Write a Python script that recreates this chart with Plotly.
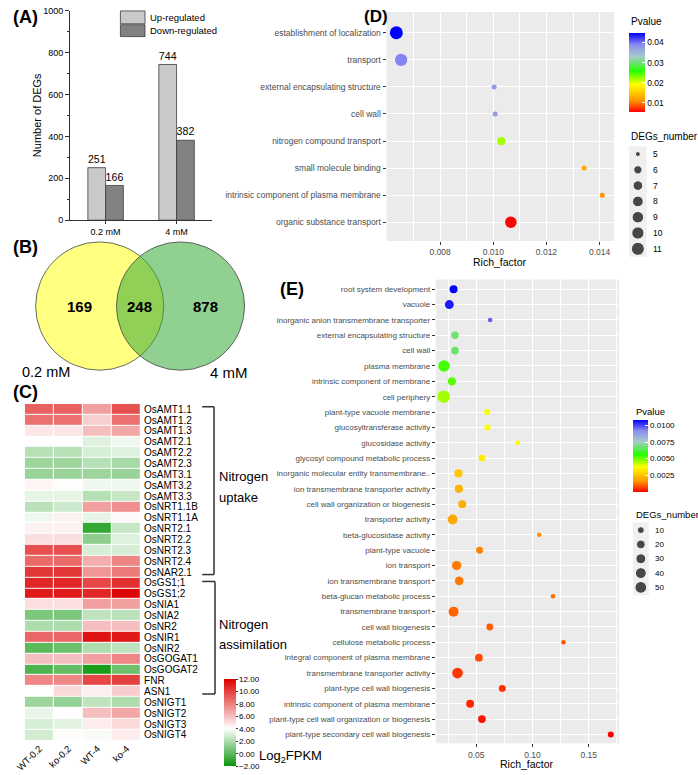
import numpy as np
import plotly.graph_objects as go

W, H = 698, 775
def fx(p): return p / W
def fy(p): return 1 - p / H

# ---------------- Panel A data ----------------
conc = ["0.2 mM", "4 mM"]
up_regulated = [251, 744]
down_regulated = [166, 382]

# ---------------- Panel B data ----------------
venn_sets = ["0.2 mM", "4 mM"]
venn_counts = [169, 248, 878]   # only 0.2 mM, shared, only 4 mM

# ---------------- Panel C data ----------------
samples = ["WT-0.2", "ko-0.2", "WT-4", "ko-4"]
genes = ["OsAMT1.1", "OsAMT1.2", "OsAMT1.3", "OsAMT2.1", "OsAMT2.2", "OsAMT2.3",
         "OsAMT3.1", "OsAMT3.2", "OsAMT3.3", "OsNRT1.1B", "OsNRT1.1A", "OsNRT2.1",
         "OsNRT2.2", "OsNRT2.3", "OsNRT2.4", "OsNAR2.1", "OsGS1;1", "OsGS1;2",
         "OsNIA1", "OsNIA2", "OsNR2", "OsNIR1", "OsNIR2", "OsGOGAT1", "OsGOGAT2",
         "FNR", "ASN1", "OsNIGT1", "OsNIGT2", "OsNIGT3", "OsNIGT4"]
log2fpkm = [
    [9.0, 9.0, 7.0, 9.5],
    [8.5, 8.5, 5.5, 8.5],
    [4.8, 4.8, 6.0, 6.8],
    [4.0, 4.0, 3.2, 3.6],
    [2.2, 2.2, 3.0, 3.2],
    [1.6, 1.6, 2.2, 1.8],
    [1.5, 1.5, 1.6, 1.5],
    [4.3, 4.1, 3.6, 3.6],
    [3.4, 3.4, 2.2, 2.6],
    [2.3, 2.8, 7.0, 7.5],
    [3.6, 4.4, 3.4, 4.2],
    [4.4, 4.4, -1.0, 2.6],
    [5.0, 5.0, 1.2, 3.2],
    [9.5, 9.5, 3.0, 3.0],
    [8.7, 8.7, 6.6, 7.8],
    [10.3, 10.3, 7.3, 8.2],
    [10.8, 10.8, 9.8, 10.5],
    [11.2, 11.2, 10.8, 11.8],
    [5.0, 5.0, 7.0, 7.0],
    [0.8, 0.8, 2.4, 2.3],
    [2.0, 2.0, 6.0, 6.0],
    [8.8, 8.8, 11.4, 11.2],
    [0.0, 0.4, 2.0, 2.4],
    [6.0, 6.0, 7.0, 7.8],
    [-0.3, 0.2, -1.6, 0.4],
    [7.8, 7.8, 9.8, 10.0],
    [4.0, 5.2, 4.5, 5.6],
    [1.6, 1.4, 2.4, 2.0],
    [3.5, 4.0, 6.0, 6.8],
    [3.0, 3.3, 4.6, 5.2],
    [2.9, 4.1, 3.8, 4.6],
]
heat_ticks = [-2, 0, 2, 4, 6, 8, 10, 12]

# ---------------- Panel D data ----------------
d_terms = ["establishment of localization", "transport", "external encapsulating structure",
           "cell wall", "nitrogen compound transport", "small molecule binding",
           "intrinsic component of plasma membrane", "organic substance transport"]
d_rich = [0.00635, 0.00653, 0.01003, 0.01007, 0.0103, 0.01342, 0.0141, 0.01066]
d_pvalue = [0.0449, 0.0394, 0.0378, 0.0375, 0.0221, 0.0127, 0.0115, 0.0056]
d_degs = [11, 10, 5, 5, 6, 5, 5, 9]
d_size_legend = [5, 6, 7, 8, 9, 10, 11]
d_p_ticks = [0.01, 0.02, 0.03, 0.04]
d_x_ticks = [0.008, 0.010, 0.012, 0.014]

# ---------------- Panel E data ----------------
e_terms = ["root system development", "vacuole", "inorganic anion transmembrane transporter",
           "external encapsulating structure", "cell wall", "plasma membrane",
           "intrinsic component of membrane", "cell periphery", "plant-type vacuole membrane",
           "glucosyltransferase activity", "glucosidase activity",
           "glycosyl compound metabolic process", "inorganic molecular entity transmembrane..",
           "ion transmembrane transporter activity", "cell wall organization or biogenesis",
           "transporter activity", "beta-glucosidase activity", "plant-type vacuole",
           "ion transport", "ion transmembrane transport", "beta-glucan metabolic process",
           "transmembrane transport", "cell wall biogenesis", "cellulose metabolic process",
           "integral component of plasma membrane", "transmembrane transporter activity",
           "plant-type cell wall biogenesis", "intrinsic component of plasma membrane",
           "plant-type cell wall organization or biogenesis",
           "plant-type secondary cell wall biogenesis"]
e_rich = [0.0298, 0.026, 0.0623, 0.031, 0.031, 0.0213, 0.0283, 0.021, 0.0597, 0.060,
          0.0868, 0.055, 0.0342, 0.0345, 0.0375, 0.029, 0.1059, 0.0529, 0.0325, 0.0348,
          0.1182, 0.0298, 0.062, 0.1275, 0.0523, 0.0333, 0.0731, 0.0445, 0.055, 0.1696]
e_pvalue = [0.0109, 0.0106, 0.0098, 0.0068, 0.0067, 0.0054, 0.0052, 0.0046, 0.0039, 0.0038,
            0.0037, 0.0034, 0.0026, 0.0022, 0.0021, 0.0020, 0.0016, 0.0014, 0.0013, 0.0013,
            0.0012, 0.0011, 0.0010, 0.0009, 0.0008, 0.0006, 0.0005, 0.0004, 0.0002, 0.00002]
e_degs = [15, 22, 5, 13, 13, 47, 18, 60, 7, 7, 5, 9, 17, 17, 15, 31, 5, 10, 25, 20,
          5, 31, 10, 5, 14, 38, 10, 15, 14, 7]
e_size_legend = [10, 20, 30, 40, 50]
e_p_ticks = [0.0025, 0.0050, 0.0075, 0.0100]
e_x_ticks = [0.05, 0.10, 0.15]

# ---------------- helpers ----------------
FONT = "Liberation Sans, Arial, sans-serif"
pscale = [[0, "#ff0000"], [0.15, "#ff9900"], [0.35, "#ffff00"], [0.52, "#22ff00"],
          [0.7, "#a6ccc8"], [0.85, "#8c8cf0"], [1, "#0000ff"]]

def area_size(n, nmin, nmax, dmin, dmax):
    n = np.asarray(n, dtype=float)
    return dmin + (dmax - dmin) * np.sqrt(np.clip((n - nmin) / (nmax - nmin), 0, None))

d_nmin, d_nmax = min(d_degs), max(d_degs)
e_nmin, e_nmax = min(e_degs), max(e_degs)

fig = go.Figure()

# ---- A: bars ----
fig.add_trace(go.Bar(x=conc, y=up_regulated, text=[str(v) for v in up_regulated],
                     textposition="outside", textfont=dict(size=11, color="black"),
                     marker=dict(color="#c9c9c9", line=dict(color="#3c3c3c", width=0.8)),
                     cliponaxis=False, xaxis="x", yaxis="y", hoverinfo="skip"))
fig.add_trace(go.Bar(x=conc, y=down_regulated, text=[str(v) for v in down_regulated],
                     textposition="outside", textfont=dict(size=11, color="black"),
                     marker=dict(color="#828282", line=dict(color="#3c3c3c", width=0.8)),
                     cliponaxis=False, xaxis="x", yaxis="y", hoverinfo="skip"))

# ---- C: heatmap ----
fig.add_trace(go.Heatmap(
    z=log2fpkm, x=samples, y=genes, zmin=-2, zmax=12, xgap=1, ygap=1,
    colorscale=[[0, "#0a960a"], [6 / 14, "#ffffff"], [1, "#dc0000"]],
    xaxis="x2", yaxis="y2", hoverinfo="skip",
    colorbar=dict(x=fx(217), xanchor="left", y=fy(683), yanchor="top", len=88 / H,
                  lenmode="fraction", thickness=12, outlinewidth=0, xpad=0, ypad=0,
                  tickmode="array", tickvals=heat_ticks, tickformat=".2f",
                  ticks="outside", ticklen=2, tickcolor="#333", tickfont=dict(size=8))))

# ---- D: dot plot ----
fig.add_trace(go.Scatter(
    x=d_rich, y=d_terms, mode="markers", xaxis="x3", yaxis="y3", hoverinfo="skip",
    marker=dict(size=area_size(d_degs, d_nmin, d_nmax, 5, 13), color=d_pvalue,
                colorscale=pscale, line=dict(width=0), opacity=1,
                colorbar=dict(x=fx(628), xanchor="left", y=fy(28), yanchor="top",
                              len=80 / H, lenmode="fraction", thickness=16, outlinewidth=0,
                              xpad=0, ypad=0, tickmode="array", tickvals=d_p_ticks,
                              tickformat=".2f", ticks="inside", ticklen=3, tickcolor="white",
                              tickfont=dict(size=8.5)))))

# ---- E: dot plot ----
fig.add_trace(go.Scatter(
    x=e_rich, y=e_terms, mode="markers", xaxis="x4", yaxis="y4", hoverinfo="skip",
    marker=dict(size=area_size(e_degs, e_nmin, e_nmax, 4.5, 12.5), color=e_pvalue,
                colorscale=pscale, line=dict(width=0), opacity=1,
                colorbar=dict(x=fx(632), xanchor="left", y=fy(420), yanchor="top",
                              len=73 / H, lenmode="fraction", thickness=15, outlinewidth=0,
                              xpad=0, ypad=0, tickmode="array", tickvals=e_p_ticks,
                              tickformat=".4f", ticks="inside", ticklen=3, tickcolor="white",
                              tickfont=dict(size=8)))))

# ---- size legends ----
d_leg_pos = list(range(len(d_size_legend)))
e_leg_pos = list(range(len(e_size_legend)))
fig.add_trace(go.Scatter(x=[0.5] * len(d_size_legend), y=d_leg_pos,
                         mode="markers", xaxis="x5", yaxis="y5", hoverinfo="skip",
                         marker=dict(size=area_size(d_size_legend, d_nmin, d_nmax, 5, 13),
                                     color="black")))
fig.add_trace(go.Scatter(x=[0.5] * len(e_size_legend), y=e_leg_pos,
                         mode="markers", xaxis="x6", yaxis="y6", hoverinfo="skip",
                         marker=dict(size=area_size(e_size_legend, e_nmin, e_nmax, 4.5, 12.5),
                                     color="black")))

gg_axis = dict(showline=False, zeroline=False, ticks="outside", ticklen=3, tickcolor="#333333",
               tickwidth=1, showgrid=True, gridcolor="white", gridwidth=1.1,
               tickfont=dict(size=8.5, color="#4d4d4d"))

nd = len(d_terms)
ne = len(e_terms)
layout = dict(
    width=W, height=H, margin=dict(l=0, r=0, t=0, b=0),
    paper_bgcolor="white", plot_bgcolor="rgba(0,0,0,0)",
    font=dict(family=FONT, color="black"), showlegend=False, hovermode=False,
    barmode="group", bargap=0.5, bargroupgap=0,
    xaxis=dict(domain=[fx(61), fx(205)], anchor="y", range=[-0.5, 1.5], showline=True,
               linecolor="#333", linewidth=1, ticks="outside", ticklen=3, tickcolor="#333",
               tickfont=dict(size=9), showgrid=False, zeroline=False),
    yaxis=dict(domain=[fy(218), fy(6)], anchor="x", range=[0, 1000], dtick=200, showline=True,
               linecolor="#333", linewidth=1, ticks="outside", ticklen=4, tickcolor="#333",
               minor=dict(ticks="outside", ticklen=2, dtick=100, tickcolor="#333"),
               tickfont=dict(size=9), showgrid=False, zeroline=False),
    xaxis2=dict(domain=[fx(15), fx(133)], anchor="y2", tickangle=-45, tickfont=dict(size=9.5),
                showgrid=False, zeroline=False, ticks="", showline=False),
    yaxis2=dict(domain=[fy(745), fy(404)], anchor="x2", side="right", autorange="reversed",
                tickmode="linear", dtick=1, tick0=0,
                tickfont=dict(size=10), showgrid=False, zeroline=False, ticks="",
                showline=False, ticklabelstandoff=2),
    xaxis3=dict(domain=[fx(382), fx(613)], anchor="y3", range=[0.00598, 0.01455],
                tickmode="array", tickvals=d_x_ticks, tickformat=".3f",
                minor=dict(showgrid=True, gridcolor="white", gridwidth=0.5, dtick=0.001,
                           tick0=0, ticks=""), **gg_axis),
    yaxis3=dict(domain=[fy(239), fy(7)], anchor="x3", type="category",
                categoryorder="array", categoryarray=d_terms,
                range=[nd - 1 + 0.69, -0.77], **gg_axis),
    xaxis4=dict(domain=[fx(432), fx(618)], anchor="y4", range=[0.014, 0.177],
                tickmode="array", tickvals=e_x_ticks, tickformat=".2f",
                minor=dict(showgrid=True, gridcolor="white", gridwidth=0.5, dtick=0.025,
                           tick0=0, ticks=""), **gg_axis),
    yaxis4=dict(domain=[fy(748), fy(278)], anchor="x4", type="category",
                categoryorder="array", categoryarray=e_terms,
                range=[ne - 1 + 0.58, -0.64], **{**gg_axis, "tickfont": dict(size=8, color="#4d4d4d")}),
    xaxis5=dict(domain=[fx(628), fx(646)], anchor="y5", range=[0, 1], visible=False),
    yaxis5=dict(domain=[fy(255), fy(143)], anchor="x5",
                range=[len(d_size_legend) - 0.5, -0.5], visible=False),
    xaxis6=dict(domain=[fx(632), fx(648)], anchor="y6", range=[0, 1], visible=False),
    yaxis6=dict(domain=[fy(598), fy(524)], anchor="x6",
                range=[len(e_size_legend) - 0.45, -0.55], visible=False),
)
fig.update_layout(**layout)

shapes = []
for ax in ["3", "4"]:
    shapes.append(dict(type="rect", xref=f"x{ax} domain", yref=f"y{ax} domain", x0=0, x1=1,
                       y0=0, y1=1, fillcolor="#ebebeb", line=dict(width=0), layer="below"))
for ax in ["5", "6"]:
    shapes.append(dict(type="rect", xref=f"x{ax} domain", yref=f"y{ax} domain", x0=0, x1=1,
                       y0=0, y1=1, fillcolor="#f0f0f0", line=dict(width=0), layer="below"))
shapes.append(dict(type="rect", xref="paper", yref="paper", x0=fx(112), x1=fx(137),
                   y0=fy(19), y1=fy(6), fillcolor="#c9c9c9", line=dict(color="#3c3c3c", width=0.8)))
shapes.append(dict(type="rect", xref="paper", yref="paper", x0=fx(112), x1=fx(137),
                   y0=fy(32), y1=fy(20), fillcolor="#828282", line=dict(color="#3c3c3c", width=0.8)))
shapes.append(dict(type="circle", xref="paper", yref="paper", x0=fx(26), x1=fx(156),
                   y0=fy(370), y1=fy(240), fillcolor="#ffff80", line=dict(color="#444", width=0.8)))
shapes.append(dict(type="circle", xref="paper", yref="paper", x0=fx(108), x1=fx(238),
                   y0=fy(370), y1=fy(240), fillcolor="rgba(53,170,53,0.55)",
                   line=dict(color="#444", width=0.8)))
for (y0, y1, xv) in [(407, 577, 207), (584, 698, 208)]:
    shapes.append(dict(type="line", xref="paper", yref="paper", x0=fx(xv), x1=fx(xv),
                       y0=fy(y0), y1=fy(y1), line=dict(color="#333", width=1.5)))
    for yy in (y0, y1):
        shapes.append(dict(type="line", xref="paper", yref="paper", x0=fx(195), x1=fx(xv),
                           y0=fy(yy), y1=fy(yy), line=dict(color="#333", width=1.5)))
fig.update_layout(shapes=shapes)

ann = []
def A(x, y, text, size, bold=False, xanchor="left", color="black", angle=0, yanchor="middle"):
    ann.append(dict(x=fx(x), y=fy(y), xref="paper", yref="paper", showarrow=False,
                    text=f"<b>{text}</b>" if bold else text, textangle=angle,
                    font=dict(size=size, color=color, family=FONT),
                    xanchor=xanchor, yanchor=yanchor))

A(1, 12, "(A)", 18, bold=True)
A(1, 245, "(B)", 18, bold=True)
A(1, 392, "(C)", 18, bold=True)
A(357, 12, "(D)", 17, bold=True)
A(272, 288, "(E)", 18, bold=True)
A(27, 112, "Number of DEGs", 11, xanchor="center", angle=-90)
A(140, 12.5, "Up-regulated", 9.5)
A(140, 26, "Down-regulated", 9.5)
A(71, 305, str(venn_counts[0]), 15, bold=True, xanchor="center")
A(131, 305, str(venn_counts[1]), 15, bold=True, xanchor="center")
A(198, 305, str(venn_counts[2]), 15, bold=True, xanchor="center")
A(37, 372, venn_sets[0], 14.5, xanchor="center")
A(222, 372, venn_sets[1], 15, xanchor="center")
A(210, 478, "Nitrogen", 13)
A(210, 499, "uptake", 13)
A(210, 628, "Nitrogen", 13)
A(210, 648, "assimilation", 13)
A(251, 761, "Log<sub>2</sub>FPKM", 13)
A(497, 260, "Rich_factor", 10.5, xanchor="center")
A(525, 768.5, "Rich_factor", 10.5, xanchor="center")
A(628, 17, "Pvalue", 10)
A(628, 133, "DEGs_number", 10)
A(633, 412, "Pvalue", 9.5)
A(633, 516, "DEGs_number", 9.5)
for i, v in zip(d_leg_pos, d_size_legend):
    ann.append(dict(x=fx(650), xref="paper", y=i, yref="y5", text=str(v), showarrow=False,
                    xanchor="left", yanchor="middle", font=dict(size=8.5, family=FONT)))
for i, v in zip(e_leg_pos, e_size_legend):
    ann.append(dict(x=fx(652), xref="paper", y=i, yref="y6", text=str(v), showarrow=False,
                    xanchor="left", yanchor="middle", font=dict(size=8, family=FONT)))
fig.update_layout(annotations=ann)

fig.write_html("out.html")
